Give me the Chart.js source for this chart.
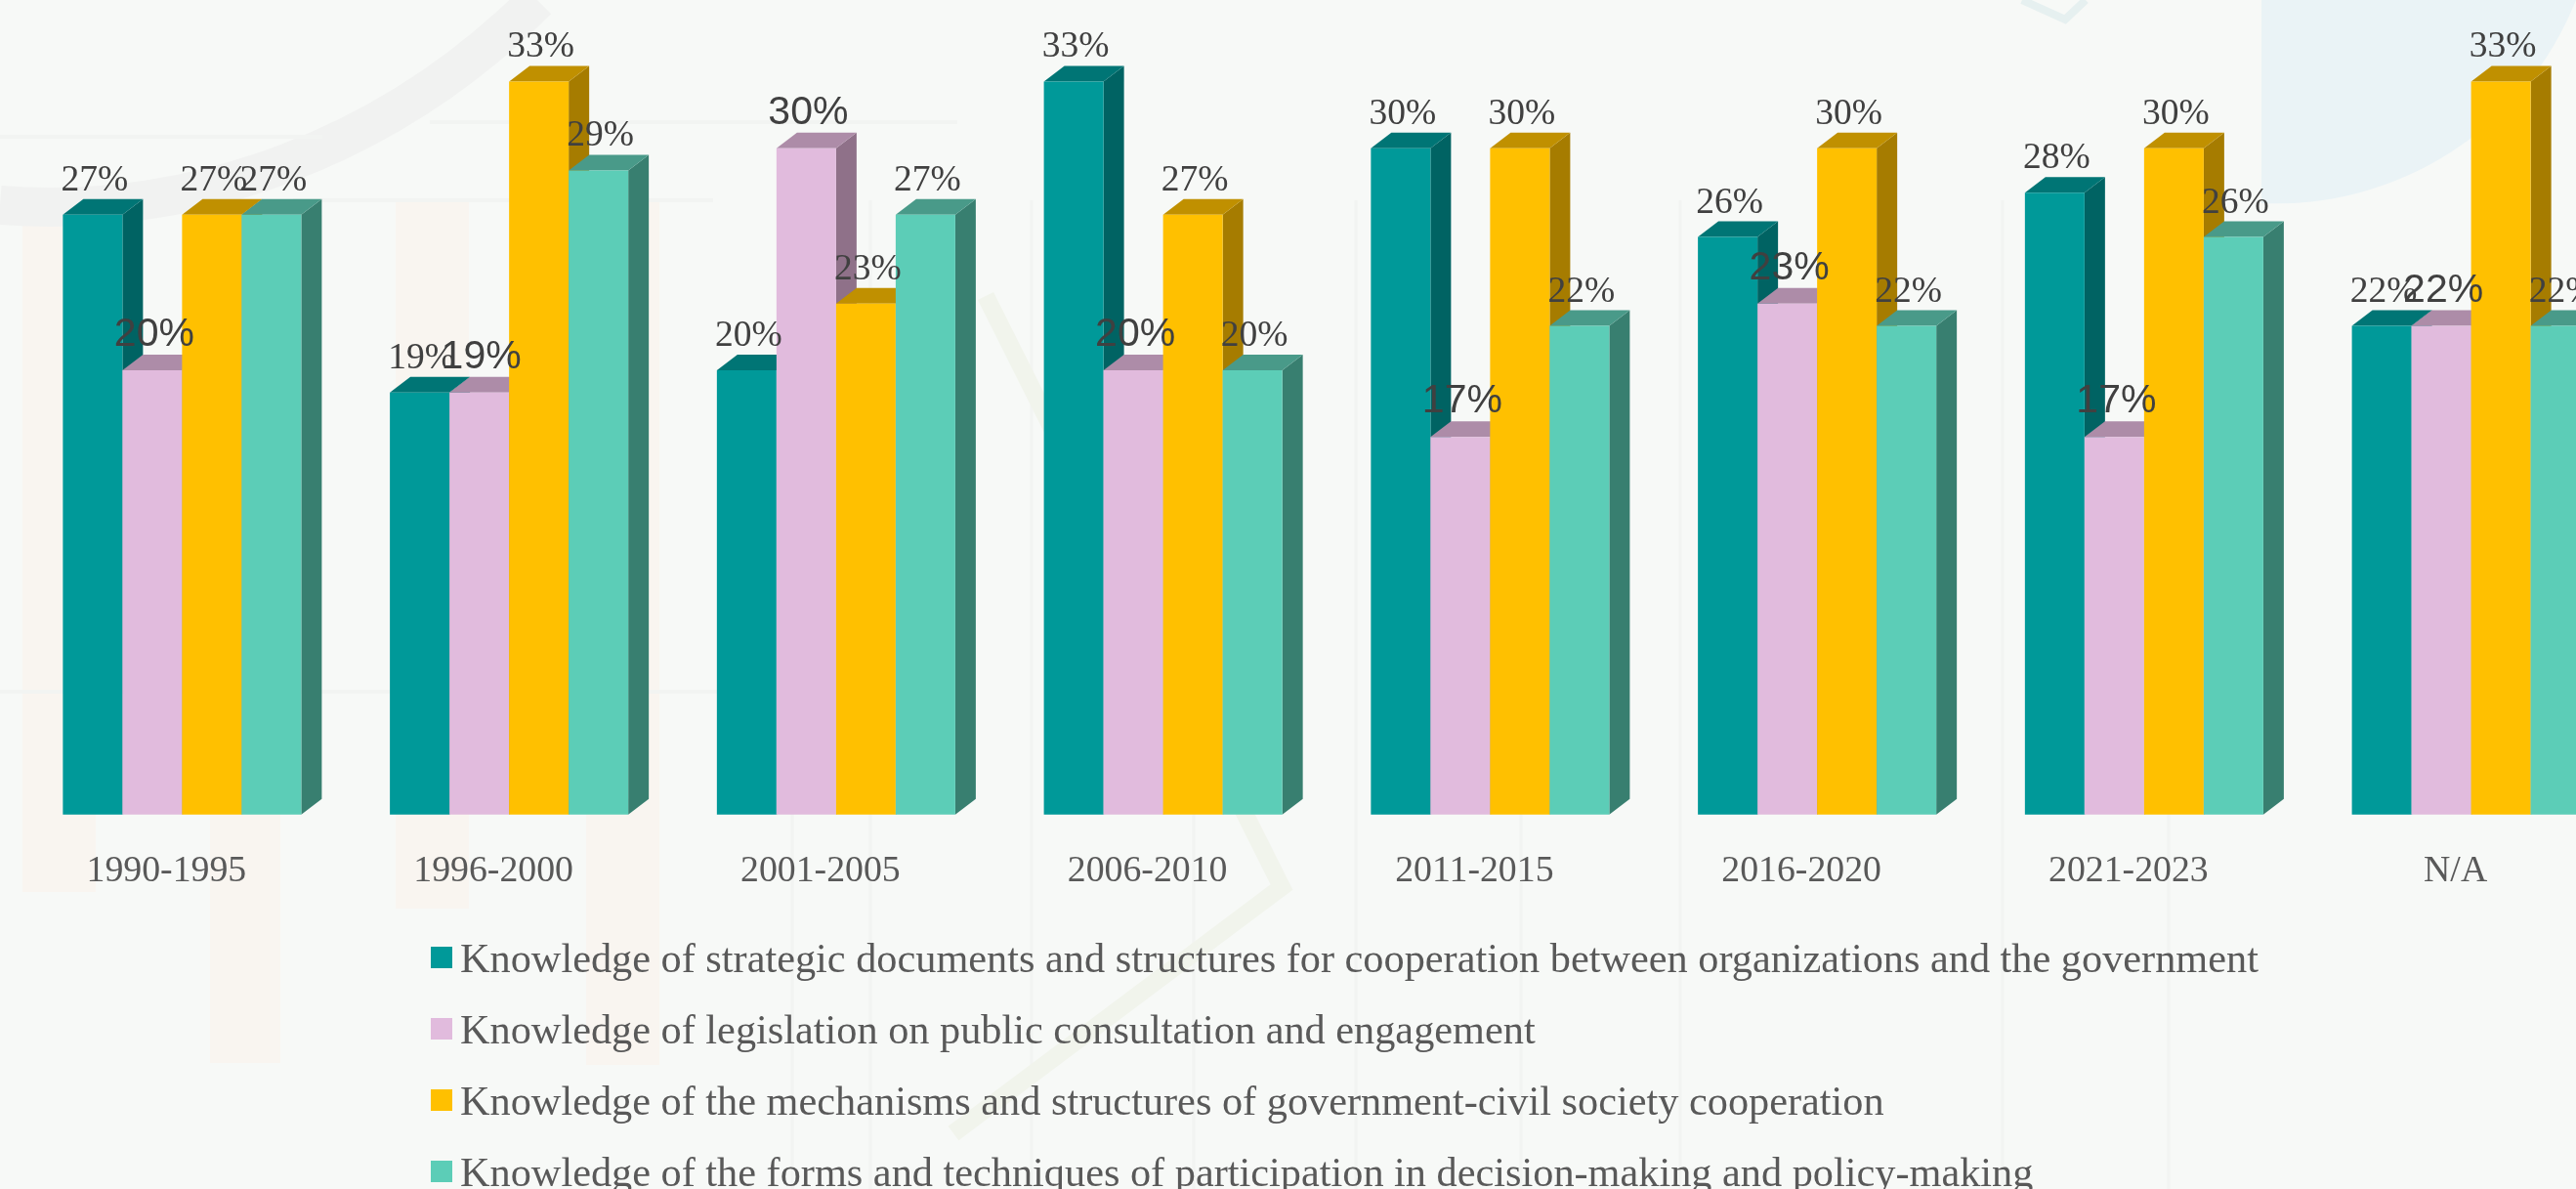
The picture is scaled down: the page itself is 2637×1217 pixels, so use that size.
<!DOCTYPE html>
<html>
<head>
<meta charset="utf-8">
<title>Knowledge by founding period</title>
<script src="https://cdn.jsdelivr.net/npm/chart.js@4"></script>
<style>
  html, body { margin: 0; height: 100%; overflow: hidden; background: #f7f9f7; }
  #backdrop { position: absolute; left: 0; top: 0; }
  #chart { position: absolute; left: 0; top: 0; }
</style>
</head>
<body>
<!-- pale decoration behind the chart -->
<svg id="backdrop" width="2637" height="1217" fill="none">
  <path d="M1056 205 V1217 M1222 205 V1217 M1388 205 V1217 M1557 205 V1217 M1720 205 V1217 M2050 205 V1217 M2220 205 V1217 M811 205 V1217 M891 205 V1217" stroke="#f2f4f2" stroke-width="3"/>
  <rect x="23" y="205" width="75" height="708" fill="#f9f5f0"/>
  <rect x="405" y="205" width="75" height="725" fill="#f9f5f0"/>
  <rect x="215" y="640" width="72" height="448" fill="#f9f5f0"/>
  <rect x="600" y="205" width="75" height="885" fill="#f9f5f0"/>
  <path d="M0 210 C 200 225, 400 150, 550 0" stroke="#f1f2f1" stroke-width="40"/>
  <path d="M0 140 H330 M440 125 H980 M300 205 H730 M0 708 H900" stroke="#f2f4f2" stroke-width="4"/>
  <path d="M1009 303 L1312 908 L976 1160" stroke="#f1f4ec" stroke-width="18"/>
  <path d="M2135 0 L2114 20 L2070 0" stroke="#e6f0f0" stroke-width="8"/>
  <path d="M2315 0 H2637 A 330 330 0 0 1 2315 208 Z" fill="#eaf3f6"/>
</svg>
<canvas id="chart" width="2720" height="1238"></canvas>
<script>
const periods = ['1990-1995', '1996-2000', '2001-2005', '2006-2010', '2011-2015', '2016-2020', '2021-2023', 'N/A'];

const strategicDocs = [27, 19, 20, 33, 30, 26, 28, 22];
const legislation = [20, 19, 30, 20, 17, 23, 17, 22];
const mechanisms = [27, 33, 23, 27, 30, 30, 30, 33];
const participation = [27, 29, 27, 20, 22, 22, 26, 22];

const seriesNames = [
  'Knowledge of strategic documents and structures for cooperation between organizations and the government',
  'Knowledge of legislation on public consultation and engagement',
  'Knowledge of the mechanisms and structures of government-civil society cooperation',
  'Knowledge of the forms and techniques of participation in decision-making and policy-making'
];

const frontColors = ['#009999', '#e1bbdd', '#ffc000', '#5ccdb7'];
const topColors = ['#007575', '#ad8ca8', '#c09000', '#499a89'];
const sideColors = ['#006363', '#8f7189', '#a67c00', '#387f70'];

const DEPTH_X = 21;
const DEPTH_Y = 16;

function face(ctx, color, pts) {
  ctx.fillStyle = color;
  ctx.beginPath();
  pts.forEach((p, i) => i ? ctx.lineTo(p[0], p[1]) : ctx.moveTo(p[0], p[1]));
  ctx.closePath();
  ctx.fill();
}

// Each bar gets a top and a right side, painted series by series so the
// later bars sit in front of the earlier ones
const extrudedBars = {
  id: 'extrudedBars',
  beforeDatasetsDraw(chart) {
    const ctx = chart.ctx;
    chart.data.datasets.forEach((ds, i) => {
      const meta = chart.getDatasetMeta(i);
      meta.data.forEach(bar => {
        const l = bar.x - bar.width / 2;
        const r = bar.x + bar.width / 2;
        face(ctx, sideColors[i], [[r, bar.y], [r + DEPTH_X, bar.y - DEPTH_Y], [r + DEPTH_X, bar.base - DEPTH_Y], [r, bar.base]]);
        face(ctx, topColors[i], [[l, bar.y], [l + DEPTH_X, bar.y - DEPTH_Y], [r + DEPTH_X, bar.y - DEPTH_Y], [r, bar.y]]);
      });
      meta.controller.draw();
    });
    return false;
  }
};

// Percentages above the bars; the legislation series uses its own bigger sans font
const valueLabels = {
  id: 'valueLabels',
  afterDraw(chart) {
    const ctx = chart.ctx;
    ctx.save();
    ctx.textAlign = 'center';
    ctx.textBaseline = 'alphabetic';
    ctx.fillStyle = '#404040';
    chart.data.datasets.forEach((ds, i) => {
      ctx.font = i === 1 ? '41px "Liberation Sans"' : '37.5px "Liberation Serif"';
      chart.getDatasetMeta(i).data.forEach((bar, j) => {
        ctx.fillText(ds.data[j] + '%', bar.x + 2, bar.y - DEPTH_Y - 9);
      });
    });
    ctx.restore();
  }
};

// Stacked key under the axis
const keyList = {
  id: 'keyList',
  afterDraw(chart) {
    const ctx = chart.ctx;
    ctx.save();
    ctx.font = '42.3px "Liberation Serif"';
    ctx.textBaseline = 'alphabetic';
    chart.data.datasets.forEach((ds, i) => {
      const y = 969 + i * 73;
      ctx.fillStyle = ds.backgroundColor;
      ctx.fillRect(441, y, 22, 22);
      ctx.fillStyle = '#595959';
      ctx.fillText(ds.label, 471, y + 26);
    });
    ctx.restore();
  }
};

const seriesValues = [strategicDocs, legislation, mechanisms, participation];

new Chart(document.getElementById('chart').getContext('2d'), {
  type: 'bar',
  data: {
    labels: periods,
    datasets: seriesValues.map((values, i) => ({
      label: seriesNames[i],
      data: values,
      backgroundColor: frontColors[i],
      categoryPercentage: 0.729,
      barPercentage: 1
    }))
  },
  options: {
    responsive: false,
    animation: false,
    layout: { padding: { left: 19, right: 23, top: 38, bottom: 295 } },
    plugins: {
      legend: { display: false },
      tooltip: { enabled: false }
    },
    scales: {
      x: {
        grid: { display: false },
        border: { display: false },
        ticks: {
          color: '#595959',
          padding: 28,
          labelOffset: -16,
          maxRotation: 0,
          font: { family: '"Liberation Serif"', size: 37.8 }
        }
      },
      y: {
        display: false,
        min: 0,
        max: 35
      }
    }
  },
  plugins: [extrudedBars, valueLabels, keyList]
});
</script>
</body>
</html>
